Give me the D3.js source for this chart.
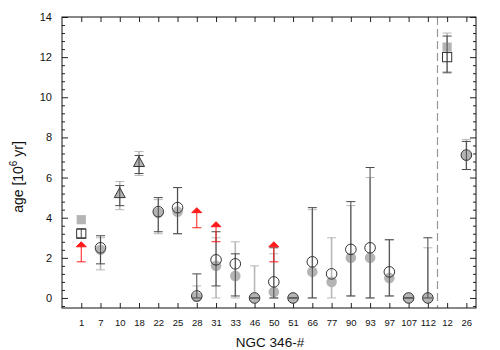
<!DOCTYPE html>
<html><head><meta charset="utf-8">
<script src="https://cdn.jsdelivr.net/npm/d3@7"></script>
<style>body{margin:0;background:#fff}svg{display:block}</style>
</head><body>
<svg id="c" width="500" height="350"></svg>
<script>
const categories = ["1","7","10","18","22","25","28","31","33","46","50","51","66","77","90","93","97","107","112","12","26"];
const shapes     = ["sq","c","tri","tri","c","c","c","c","c","c","c","c","c","c","c","c","c","c","c","sq","c"];
// gray (filled) estimate with light error bar
const grayVal = [3.9, 2.4, 5.2, 6.75, 4.25, 4.3, 0.05, 1.6, 1.1, 0, 0.3, 0, 1.3, 0.8, 2.0, 2.0, 1.0, 0, 0, 12.5, 7.1];
const grayLo  = [null,1.4, 4.4, 6.1, 3.2, 3.2, 0, 0, 0, 0, 0, 0, 0, 0, 0.1, 0, 0.1, 0, 0, 11.2, 6.4];
const grayHi  = [null,3.0, 5.8, 7.3, 4.9, 5.5, 0.6, 3.0, 2.8, 1.6, 2.2, 0, 4.4, 3.0, 4.6, 6.0, 2.9, 0, 2.5, 13.2, 7.9];
// open estimate with dark error bar
const openVal = [3.2, 2.5, 5.2, 6.75, 4.3, 4.5, 0.1, 1.9, 1.7, 0, 0.8, 0, 1.8, 1.2, 2.42, 2.5, 1.3, 0, 0, 12.0, 7.12];
const openLo  = [3.0, 1.7, 4.6, 6.2, 3.3, 3.2, 0, 0.6, 0.1, 0, 0, 0, 0, null, 0.1, 0, 0.1, 0, 0, 11.25, 6.4];
const openHi  = [3.45,3.1, 5.6, 7.1, 5.0, 5.5, 1.2, 3.3, 2.2, 0, 2.5, 0, 4.5, null, 4.8, 6.5, 2.9, 0, 3.0, 13.05, 7.8];
// lower limits (red arrows)
const limitCats = ["1","28","31","50"];
const limitVals = [1.8, 3.5, 2.8, 1.8];
const yMajor = [0,2,4,6,8,10,12,14];

const svg = d3.select("#c");
const x = d3.scaleLinear().domain([0, 21.5]).range([62, 476]);
const y = d3.scaleLinear().domain([-0.5, 14]).range([308, 17]);
const xi = c => x(categories.indexOf(c) + 1);
const font = "'Liberation Sans', Arial, Helvetica, sans-serif";

// axes with inward ticks
const xt = d3.range(1, categories.length + 1);
const fmt = d => categories[d - 1];
const minor = d3.range(-0.4, 14.01, 0.4).filter(v => !yMajor.some(m => Math.abs(m - v) < 1e-6));
function styleAxis(g){ g.select(".domain").remove(); g.selectAll("line").attr("stroke","#222"); }
svg.append("g").attr("transform","translate(0,308)")
  .call(d3.axisBottom(x).tickValues(xt).tickFormat(fmt).tickSizeInner(-5).tickPadding(11))
  .call(styleAxis).selectAll("text").attr("font-family",font).attr("font-size","9.5px").attr("fill","#111");
svg.append("g").attr("transform","translate(0,17)")
  .call(d3.axisTop(x).tickValues(xt).tickFormat("").tickSizeInner(-5)).call(styleAxis);
svg.append("g").attr("transform","translate(62,0)")
  .call(d3.axisLeft(y).tickValues(yMajor).tickSizeInner(-6).tickPadding(10))
  .call(styleAxis).selectAll("text").attr("font-family",font).attr("font-size","11px").attr("fill","#111");
svg.append("g").attr("transform","translate(62,0)")
  .call(d3.axisLeft(y).tickValues(minor).tickFormat("").tickSizeInner(-3)).call(styleAxis);
svg.append("g").attr("transform","translate(476,0)")
  .call(d3.axisRight(y).tickValues(yMajor).tickFormat("").tickSizeInner(-6)).call(styleAxis);
svg.append("g").attr("transform","translate(476,0)")
  .call(d3.axisRight(y).tickValues(minor).tickFormat("").tickSizeInner(-3)).call(styleAxis);

// dashed separator
svg.append("line").attr("x1",x(19.5)).attr("x2",x(19.5)).attr("y1",y(14)).attr("y2",y(-0.5))
  .attr("stroke","#999").attr("stroke-width",1.2).attr("stroke-dasharray","8,4");

const cw = 4.5;
function errbar(i, lo, hi, color, w){
  if (lo[i] == null || hi[i] == null) return;
  const cx = x(i + 1);
  const g = svg.append("g").attr("stroke", color).attr("stroke-width", w);
  g.append("line").attr("x1",cx).attr("x2",cx).attr("y1",y(lo[i])).attr("y2",y(hi[i]));
  g.append("line").attr("x1",cx-cw).attr("x2",cx+cw).attr("y1",y(lo[i])).attr("y2",y(lo[i])).attr("stroke-width",1);
  g.append("line").attr("x1",cx-cw).attr("x2",cx+cw).attr("y1",y(hi[i])).attr("y2",y(hi[i])).attr("stroke-width",1);
}
function marker(i, v, fill, stroke){
  const cx = x(i + 1), cy = y(v[i]), s = shapes[i];
  let m;
  if (s === "c") m = svg.append("circle").attr("cx",cx).attr("cy",cy).attr("r",5.3);
  else if (s === "sq") m = svg.append("rect").attr("x",cx-4.6).attr("y",cy-4.6).attr("width",9.2).attr("height",9.2);
  else m = svg.append("path").attr("d",`M${cx},${cy-6}L${cx+5.5},${cy+4}L${cx-5.5},${cy+4}Z`);
  m.attr("fill", fill).attr("stroke", stroke).attr("stroke-width", 1);
}

categories.forEach((c, i) => errbar(i, grayLo, grayHi, "#b8b8b8", 1.6));
categories.forEach((c, i) => marker(i, grayVal, "#b4b4b4", "none"));
categories.forEach((c, i) => errbar(i, openLo, openHi, "#4a4a4a", 1));
categories.forEach((c, i) => marker(i, openVal, "none", "#333"));

// red lower-limit arrows
limitCats.forEach((c, k) => {
  const cx = xi(c), y0 = y(limitVals[k]), y1 = y(limitVals[k] + 1);
  const g = svg.append("g").attr("stroke","#ff1a1a").attr("stroke-width",1);
  g.append("line").attr("x1",cx).attr("x2",cx).attr("y1",y0).attr("y2",y1+3);
  g.append("line").attr("x1",cx-cw).attr("x2",cx+cw).attr("y1",y0).attr("y2",y0);
  g.append("path").attr("d",`M${cx},${y1}L${cx+5},${y1+5}L${cx-5},${y1+5}Z`).attr("fill","#ff1a1a");
});

// frame
svg.append("rect").attr("x",62).attr("y",17).attr("width",414).attr("height",291)
  .attr("fill","none").attr("stroke","#111").attr("stroke-width",1);

// titles
svg.append("text").attr("x",270).attr("y",347).attr("text-anchor","middle")
  .attr("font-family",font).attr("font-size","13.5px").attr("fill","#111").text("NGC 346-#");
const yt = svg.append("text").attr("transform","translate(23,177) rotate(-90)").attr("text-anchor","middle")
  .attr("font-family",font).attr("font-size","14px").attr("fill","#111");
yt.append("tspan").text("age [10");
yt.append("tspan").attr("font-size","10px").attr("dy","-6").text("6");
yt.append("tspan").attr("dy","6").text(" yr]");
</script>
</body></html>
